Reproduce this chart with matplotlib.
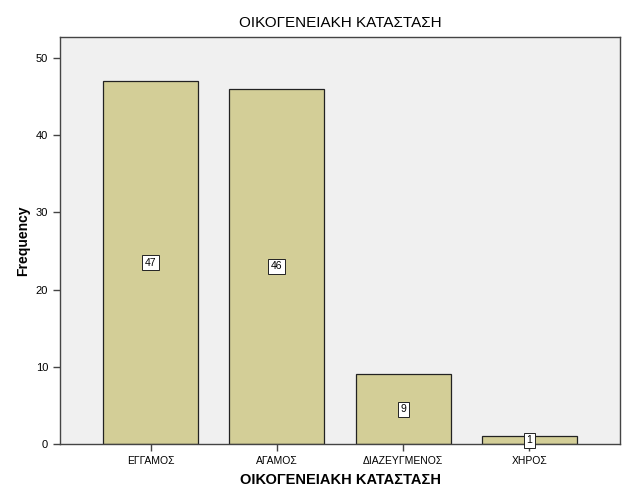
import matplotlib
matplotlib.use("Agg")
import matplotlib.pyplot as plt

categories = ["ΕΓΓΑΜΟΣ", "ΑΓΑΜΟΣ", "ΔΙΑΖΕΥΓΜΕΝΟΣ", "ΧΗΡΟΣ"]
counts = [47, 46, 9, 1]
yticks = [0, 10, 20, 30, 40, 50]
title = "ΟΙΚΟΓΕΝΕΙΑΚΗ ΚΑΤΑΣΤΑΣΗ"

plt.rcParams['font.family'] = ['Liberation Sans', 'DejaVu Sans']

fig = plt.figure(figsize=(6.29, 5.04), dpi=100)
W, H = 629, 504
ax = fig.add_axes([60 / W, (H - 444) / H, (620 - 60) / W, (444 - 37) / H])
ax.set_facecolor("#F0F0F0")

x = list(range(len(categories)))
ax.bar(x, counts, width=0.75, color="#D3CE97", edgecolor="#222222", linewidth=0.9, zorder=2)
for xi, v in zip(x, counts):
    ax.text(xi, v / 2, str(v), ha="center", va="center", fontsize=7.5,
            bbox=dict(boxstyle="square,pad=0.25", fc="white", ec="#222222", lw=0.7), zorder=3)

ax.set_xlim(-0.717, 3.717)
ax.set_ylim(0, 52.7)
ax.set_yticks(yticks)
ax.set_xticks(x)
ax.set_xticklabels(categories, fontsize=7.5)
ax.tick_params(axis="y", labelsize=8, length=5, width=1, color="#444444")
ax.tick_params(axis="x", length=5, width=1, color="#444444")
for s in ax.spines.values():
    s.set_color("#444444")
    s.set_linewidth(1)

ax.set_ylabel("Frequency", fontsize=10, fontweight="bold", labelpad=4)
ax.set_xlabel(title, fontsize=10.5, fontweight="bold", labelpad=5)
fig.text(340 / W, 1 - 23 / H, title, ha="center", va="center", fontsize=11)

fig.savefig("out.png", dpi=100)
